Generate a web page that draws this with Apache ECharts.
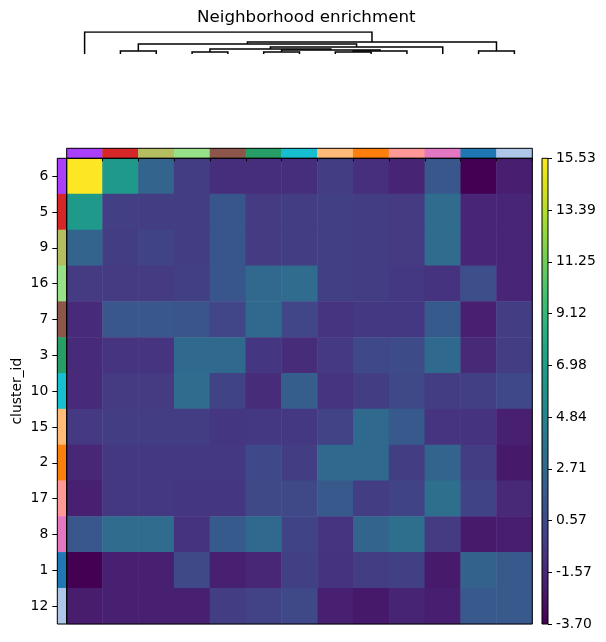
<!DOCTYPE html>
<html>
<head>
<meta charset="utf-8">
<script src="https://cdn.jsdelivr.net/npm/echarts@6/dist/echarts.min.js"></script>
<style>
    html, body { margin: 0; padding: 0; background: #fff; }
    #chart { width: 606px; height: 642px; }
</style>
</head>
<body>
<div id="chart"></div>
<script>
    // clusters in the order of the dendrogram
    var clusters = ['6', '5', '9', '16', '7', '3', '10', '15', '2', '17', '8', '1', '12'];
    var clusterColors = ['#aa40fc', '#d62728', '#b5bd61', '#98df8a', '#8c564b', '#279e68', '#17becf',
        '#ffbb78', '#ff7f0e', '#ff9896', '#e377c2', '#1f77b4', '#aec7e8'];

    // z-scores, rows / columns follow clusters
    var zscore = [
        [15.53, 6.7, 2.45, -0.3, -1.2, -1.2, -1.2, -0.3, -1.1, -1.8, 1.5, -3.7, -2.1],
        [6.7, -0.15, -0.2, -0.2, 1.4, -0.4, -0.3, -0.1, -0.3, -0.4, 3.0, -1.7, -1.7],
        [2.45, -0.2, 0.1, -0.2, 1.4, -0.4, -0.3, -0.1, -0.3, -0.4, 3.0, -1.7, -1.7],
        [-0.4, -0.4, -0.4, -0.1, 1.4, 2.7, 3.0, -0.1, -0.3, -0.6, -0.9, 0.9, -1.7],
        [-1.4, 1.5, 1.5, 1.3, 0.3, 2.8, 0.3, -0.8, -0.6, -0.6, 1.7, -2.0, -0.3],
        [-1.4, -0.8, -0.8, 2.8, 2.8, -0.7, -1.3, -0.5, 0.4, 0.6, 2.8, -1.5, -0.2],
        [-1.4, -0.4, -0.4, 3.0, 0.1, -1.3, 2.0, -0.8, -0.2, 0.5, -0.2, -0.1, 0.4],
        [-0.5, -0.2, -0.2, -0.2, -0.7, -0.6, -0.6, 0.0, 2.8, 1.6, -0.8, -0.9, -2.0],
        [-1.6, -0.6, -0.6, -0.6, -0.6, 0.4, -0.3, 2.8, 2.8, -0.3, 2.45, -0.3, -2.4],
        [-2.0, -0.6, -0.6, -0.7, -0.7, 0.5, 0.5, 1.6, -0.3, 0.1, 3.3, 0.1, -1.5],
        [1.5, 3.0, 3.0, -0.9, 1.7, 2.8, 0.1, -0.8, 2.45, 3.3, -0.4, -2.35, -2.1],
        [-3.7, -2.0, -2.0, 0.5, -2.0, -1.6, -0.1, -0.9, -0.3, -0.1, -2.35, 2.4, 1.6],
        [-2.2, -2.0, -2.0, -2.0, -0.2, 0.0, 0.5, -2.0, -2.4, -1.8, -2.1, 1.6, 1.6]
    ];

    var zMin = -3.70, zMax = 15.53;
    var colorbarLabels = ['-3.70', '-1.57', '0.57', '2.71', '4.84', '6.98', '9.12', '11.25', '13.39', '15.53'];

    // linkage: [left node, right node, height]; leaves are 0..12, new nodes get 13, 14, ...
    var linkage = [
        [1, 2, 0.14],
        [11, 12, 0.14],
        [3, 4, 0.09],
        [5, 6, 0.09],
        [7, 8, 0.09],
        [17, 9, 0.14],
        [16, 18, 0.18],
        [15, 19, 0.23],
        [20, 10, 0.32],
        [13, 21, 0.45],
        [22, 14, 0.55],
        [0, 23, 1.0]
    ];

    var viridis = ['#440154', '#471365', '#482475', '#463480', '#414487', '#3b528b', '#355f8d', '#2f6c8e',
        '#2a788e', '#25848e', '#21918c', '#1e9c89', '#22a884', '#2fb47c', '#44bf70', '#5ec962', '#7ad151',
        '#9bd93c', '#bddf26', '#dfe318', '#fde725'];

    // dendrogram segments
    var nodeX = [], nodeH = [];
    clusters.forEach(function (c, i) { nodeX[i] = i; nodeH[i] = 0; });
    var dendroLines = [];
    linkage.forEach(function (m, k) {
        var l = m[0], r = m[1], h = m[2];
        dendroLines.push({coords: [[nodeX[l], nodeH[l]], [nodeX[l], h], [nodeX[r], h], [nodeX[r], nodeH[r]]]});
        nodeX[clusters.length + k] = (nodeX[l] + nodeX[r]) / 2;
        nodeH[clusters.length + k] = h;
    });

    var heatData = [];
    zscore.forEach(function (row, i) {
        row.forEach(function (v, j) { heatData.push([j, i, v]); });
    });
    var topBar = clusters.map(function (c, i) {
        return {value: [i, 0, 1], itemStyle: {color: clusterColors[i]}};
    });
    var leftBar = clusters.map(function (c, i) {
        return {value: [0, i, 1], itemStyle: {color: clusterColors[i]}};
    });

    // colour bar fill (bottom -> top)
    var cbarFill = new echarts.graphic.LinearGradient(0, 1, 0, 0, viridis.map(function (c, i) {
        return {offset: i / (viridis.length - 1), color: c};
    }));

    var font = 'DejaVu Sans';
    var L = 66.7, W = 465.6, T = 158.3, H = 465.7;

    var myChart = echarts.init(document.getElementById('chart'), null, {renderer: 'canvas'});
    var option = {
        animation: false,
        title: {
            text: 'Neighborhood enrichment',
            left: 192, top: 4,
            textStyle: {fontFamily: font, fontSize: 16.7, fontWeight: 'normal', color: '#000'}
        },
        grid: [
            {left: L, top: 32, width: W, height: 22},
            {left: L, top: 148.3, width: W, height: 10, show: true, borderColor: '#000', borderWidth: 1, z: 5},
            {left: 57.3, top: T, width: 9.4, height: H, show: true, borderColor: '#000', borderWidth: 1, z: 5},
            {left: L, top: T, width: W, height: H, show: true, borderColor: '#000', borderWidth: 1, z: 5},
            {left: 542, top: T, width: 6, height: H, show: true, borderColor: '#000', borderWidth: 1,
                backgroundColor: cbarFill}
        ],
        xAxis: [
            {type: 'value', gridIndex: 0, min: -0.5, max: 12.5, show: false},
            {type: 'category', gridIndex: 1, data: clusters, show: false},
            {type: 'category', gridIndex: 2, data: [''], show: false},
            {
                type: 'category', gridIndex: 3, data: clusters, position: 'top',
                axisLine: {show: false}, axisLabel: {show: false},
                axisTick: {show: true, inside: true, length: 3, lineStyle: {color: '#000'}},
                z: 6
            },
            {type: 'category', gridIndex: 4, data: [''], show: false}
        ],
        yAxis: [
            {type: 'value', gridIndex: 0, min: 0, max: 1, show: false},
            {type: 'category', gridIndex: 1, data: [''], show: false},
            {
                type: 'category', gridIndex: 2, data: clusters, inverse: true,
                name: 'cluster_id', nameLocation: 'middle', nameGap: 33, nameRotate: 90,
                nameTextStyle: {fontFamily: font, fontSize: 13.9, color: '#000'},
                axisLine: {show: false},
                axisTick: {show: true, alignWithLabel: true, length: 5, lineStyle: {color: '#000'}},
                axisLabel: {fontFamily: font, fontSize: 13.9, color: '#000', margin: 9}
            },
            {type: 'category', gridIndex: 3, data: clusters, inverse: true, show: false},
            {
                type: 'value', gridIndex: 4, min: 0, max: 9, interval: 1, position: 'right',
                splitLine: {show: false},
                axisLine: {show: false},
                axisTick: {show: true, length: 4, lineStyle: {color: '#000'}},
                axisLabel: {
                    fontFamily: font, fontSize: 13.9, color: '#000', margin: 8,
                    formatter: function (v) { return colorbarLabels[Math.round(v)]; }
                }
            }
        ],
        visualMap: {
            type: 'continuous',
            show: false,
            seriesIndex: 0,
            min: zMin, max: zMax,
            inRange: {color: viridis}
        },
        series: [
            {type: 'heatmap', xAxisIndex: 3, yAxisIndex: 3, data: heatData},
            {type: 'heatmap', xAxisIndex: 1, yAxisIndex: 1, data: topBar},
            {type: 'heatmap', xAxisIndex: 2, yAxisIndex: 2, data: leftBar},
            {
                type: 'lines', coordinateSystem: 'cartesian2d', xAxisIndex: 0, yAxisIndex: 0,
                polyline: true, silent: true,
                lineStyle: {color: '#000', width: 1.5, opacity: 1},
                data: dendroLines
            }
        ]
    };
    myChart.setOption(option);
</script>
</body>
</html>
